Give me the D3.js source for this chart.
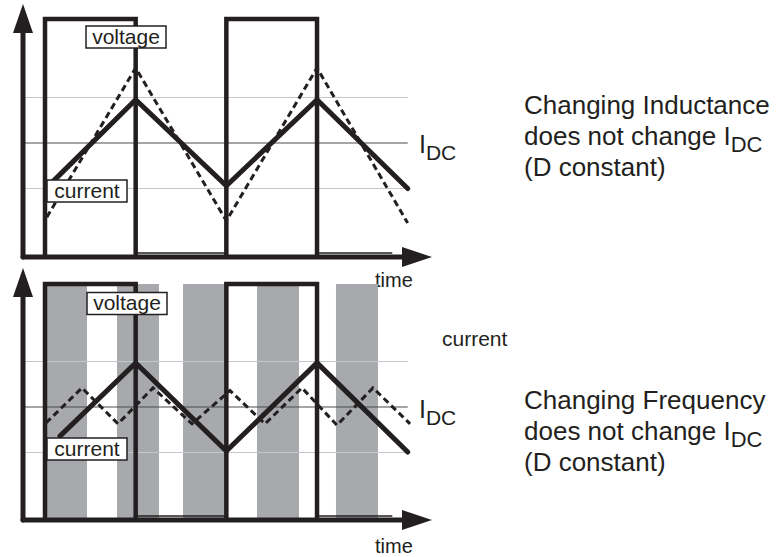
<!DOCTYPE html>
<html>
<head>
<meta charset="utf-8">
<script src="https://cdn.jsdelivr.net/npm/d3@7"></script>
<style>
html,body{margin:0;padding:0;background:#fff;}
svg{display:block;}
text{font-family:"Liberation Sans",Arial,Helvetica,sans-serif;fill:#231f20;}
</style>
</head>
<body>
<svg id="chart" width="779" height="557"></svg>
<script>
// ---------- data (time in switching half-periods, current relative to I_DC) ----------
const voltageEdges = [0, 1, 2, 3];          // rise, fall, rise, fall
const voltageEnd = 3.83;
const topSolidT = [0.08, 1, 2, 3, 4];
const topSolidI = [-0.86, 0.95, -0.94, 0.95, -1.0];
const topDashT = [0.02, 1, 2, 3, 4];
const topDashI = [-1.63, 1.65, -1.71, 1.65, -1.76];
const botSolidT = [0.165, 1, 2, 3, 4];
const botSolidI = [-0.64, 0.97, -0.97, 0.97, -0.99];
const botDashT = [0.011, 0.408, 0.805, 1.191, 1.621, 2.040, 2.426, 2.834, 3.220, 3.617, 4.026];
const botDashI = [-0.35, 0.42, -0.37, 0.42, -0.37, 0.36, -0.37, 0.42, -0.40, 0.42, -0.37];
const barStart = [0, 0.794, 1.522, 2.338, 3.209];
const barEnd = [0.463, 1.257, 1.996, 2.801, 3.672];
const gridLevels = [1, 0, -1];               // upper ripple, I_DC, lower ripple
const axisLabel = "time";

const ink = "#231f20";
const svg = d3.select("#chart");

const x = d3.scaleLinear().domain([0, 4]).range([45, 407.7]);
const axisStartT = x.invert(23);
const axisTipT = x.invert(432);

const panels = [
  {yI: d3.scaleLinear().domain([-1, 1]).range([188.5, 97.5]),
   yV: d3.scaleLinear().domain([0, 1]).range([255, 19]),
   axisY: 257, axisTop: 4,
   solidT: topSolidT, solidI: topSolidI, dashT: topDashT, dashI: topDashI,
   bars: false, lowLine: 253,
   vBox: {x: 86, y: 26, text: "voltage"}, cBox: {x: 47, y: 180, text: "current"},
   timeY: 287, idcY: 153, gridDy: 0},
  {yI: d3.scaleLinear().domain([-1, 1]).range([452.5, 361.5]),
   yV: d3.scaleLinear().domain([0, 1]).range([518, 284]),
   axisY: 520, axisTop: 268,
   solidT: botSolidT, solidI: botSolidI, dashT: botDashT, dashI: botDashI,
   bars: true, lowLine: 516,
   vBox: {x: 87, y: 292.5, text: "voltage"}, cBox: {x: 47, y: 438, text: "current"},
   timeY: 553, idcY: 418}
];

const line = d3.line();

panels.forEach(p => {
  const g = svg.append("g");
  // gray bars (frequency)
  if (p.bars) {
    g.selectAll("rect.bar").data(barStart.map((s, i) => [s, barEnd[i]])).enter()
      .append("rect").attr("class", "bar")
      .attr("x", d => x(d[0])).attr("width", d => x(d[1]) - x(d[0]))
      .attr("y", p.yV(1)).attr("height", p.yV(0) - p.yV(1))
      .attr("fill", "#a7a9ac");
  }
  // grid lines
  g.selectAll("line.grid").data(gridLevels).enter().append("line")
    .attr("x1", x(axisStartT)).attr("x2", x(4))
    .attr("y1", d => p.yI(d)).attr("y2", d => p.yI(d))
    .attr("stroke", d => d === 0 ? "#4d4d4f" : "#c3c8d0")
    .attr("stroke-width", 1.2);
  // voltage
  const v = p.yV;
  const vp = d3.path();
  vp.moveTo(x(voltageEdges[0]), v(0)); vp.lineTo(x(voltageEdges[0]), v(1));
  vp.lineTo(x(voltageEdges[1]), v(1)); vp.lineTo(x(voltageEdges[1]), v(0));
  vp.moveTo(x(voltageEdges[2]), v(0)); vp.lineTo(x(voltageEdges[2]), v(1));
  vp.lineTo(x(voltageEdges[3]), v(1)); vp.lineTo(x(voltageEdges[3]), v(0));
  g.append("path").attr("d", vp.toString()).attr("fill", "none")
    .attr("stroke", ink).attr("stroke-width", 4.5).attr("stroke-linejoin", "miter");
  [[voltageEdges[1], voltageEdges[2]], [voltageEdges[3], voltageEnd]].forEach(s => {
    g.append("line").attr("x1", x(s[0])).attr("x2", x(s[1]))
      .attr("y1", p.lowLine).attr("y2", p.lowLine)
      .attr("stroke", ink).attr("stroke-width", 1.4);
  });
  // dashed current
  g.append("path")
    .attr("d", line(p.dashT.map((t, i) => [x(t), p.yI(p.dashI[i])])))
    .attr("fill", "none").attr("stroke", ink).attr("stroke-width", 3)
    .attr("stroke-dasharray", "6.5,4");
  // solid current
  g.append("path")
    .attr("d", line(p.solidT.map((t, i) => [x(t), p.yI(p.solidI[i])])))
    .attr("fill", "none").attr("stroke", ink).attr("stroke-width", 5)
    .attr("stroke-linecap", "round").attr("stroke-linejoin", "miter");
  // axes
  const ax0 = x(axisStartT), tip = x(axisTipT);
  g.append("line").attr("x1", ax0).attr("x2", tip - 20)
    .attr("y1", p.axisY).attr("y2", p.axisY)
    .attr("stroke", ink).attr("stroke-width", 5).attr("stroke-linecap", "round");
  g.append("path").attr("d", `M${tip},${p.axisY} L${tip - 30},${p.axisY - 10} L${tip - 30},${p.axisY + 10} Z`)
    .attr("fill", ink);
  g.append("line").attr("x1", ax0).attr("x2", ax0)
    .attr("y1", p.axisY).attr("y2", p.axisTop + 20)
    .attr("stroke", ink).attr("stroke-width", 5).attr("stroke-linecap", "round");
  g.append("path").attr("d", `M${ax0},${p.axisTop} L${ax0 - 10},${p.axisTop + 29} L${ax0 + 10},${p.axisTop + 29} Z`)
    .attr("fill", ink);
  // labelled boxes
  [p.vBox, p.cBox].forEach(b => {
    g.append("rect").attr("x", b.x).attr("y", b.y).attr("width", 80).attr("height", 22)
      .attr("fill", "#fff").attr("stroke", ink).attr("stroke-width", 1.5);
    g.append("text").attr("x", b.x + 40).attr("y", b.y + 17.5)
      .attr("text-anchor", "middle").attr("font-size", 21).text(b.text);
  });
  // time label
  g.append("text").attr("x", 375).attr("y", p.timeY).attr("font-size", 20).text(axisLabel);
  // I_DC label
  const idc = g.append("text").attr("x", 419).attr("y", p.idcY).attr("font-size", 25);
  idc.append("tspan").text("I");
  idc.append("tspan").attr("dy", 7).attr("font-size", 21).text("DC");
});

// stand-alone "current" label in lower panel
svg.append("text").attr("x", 442).attr("y", 346).attr("font-size", 21).text("current");

// right-hand notes
function note(y0, first) {
  const lines = [first, "does not change ", "(D constant)"];
  lines.forEach((s, i) => {
    const t = svg.append("text").attr("x", 524).attr("y", y0 + i * 31).attr("font-size", 26);
    t.append("tspan").text(s);
    if (i === 1) {
      t.append("tspan").text("I");
      t.append("tspan").attr("dy", 7).attr("font-size", 22).text("DC");
    }
  });
}
note(114, "Changing Inductance");
note(409, "Changing Frequency");
</script>
</body>
</html>
